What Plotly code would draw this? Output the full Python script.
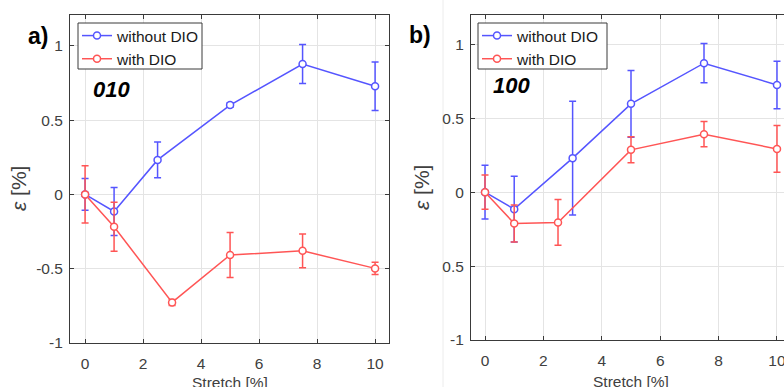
import plotly.graph_objects as go

W, H = 784, 387

# ---------------- data ----------------
# panel a (010)
a_x_without = [0, 1, 2.5, 5, 7.5, 10]
a_y_without = [0, -0.115, 0.232, 0.601, 0.877, 0.728]
a_e_without = [0.107, 0.162, 0.12, 0.015, 0.131, 0.163]
a_x_with = [0, 1, 3, 5, 7.5, 10]
a_y_with = [0, -0.218, -0.727, -0.408, -0.38, -0.498]
a_e_with = [0.192, 0.165, 0.02, 0.152, 0.113, 0.041]

# panel b (100)
b_x_without = [0, 1, 3, 5, 7.5, 10]
b_y_without = [0, -0.115, 0.23, 0.597, 0.872, 0.725]
b_e_without = [0.182, 0.222, 0.385, 0.225, 0.133, 0.161]
b_x_with = [0, 1, 2.5, 5, 7.5, 10]
b_y_with = [0, -0.212, -0.205, 0.286, 0.392, 0.292]
b_e_with = [0.116, 0.125, 0.155, 0.088, 0.085, 0.158]

series_names = ["without DIO", "with DIO"]
x_ticks = [0, 2, 4, 6, 8, 10]
y_ticks = [-1, -0.5, 0, 0.5, 1]
y_tick_labels_a = ["-1", "-0.5", "0", "0.5", "1"]
y_tick_labels_b = ["-1", "0.5", "0", "0.5", "1"]
panel_labels = ["a)", "b)"]
plane_labels = ["010", "100"]
x_title = "Stretch [%]"
y_title = "<i>ε</i> [%]"

BLUE = "rgb(85,85,255)"
RED = "rgb(255,85,85)"
AXC = "#3a3a3a"
TXC = "#404040"
FONT = "Liberation Sans, Arial, sans-serif"


def px(x):
    return x / W


def py(y):
    return (H - y) / H


fig = go.Figure()


def add(x, y, e, color, name, xa, ya, leg):
    fig.add_trace(go.Scatter(
        x=x, y=y, mode="lines+markers", name=name,
        xaxis=xa, yaxis=ya, legend=leg,
        line=dict(color=color, width=1.5),
        marker=dict(symbol="circle", size=7, color="white",
                    line=dict(color=color, width=1.5)),
        error_y=dict(type="data", array=e, visible=True, color=color,
                     thickness=1.5, width=3.5),
    ))


add(a_x_without, a_y_without, a_e_without, BLUE, series_names[0], "x", "y", "legend")
add(a_x_with, a_y_with, a_e_with, RED, series_names[1], "x", "y", "legend")
add(b_x_without, b_y_without, b_e_without, BLUE, series_names[0], "x2", "y2", "legend2")
add(b_x_with, b_y_with, b_e_with, RED, series_names[1], "x2", "y2", "legend2")

axis_common = dict(
    showline=True, linecolor=AXC, linewidth=1,
    ticks="inside", ticklen=4, tickcolor=AXC, tickwidth=1,
    showgrid=True, gridcolor="#e4e4e4", gridwidth=1,
    zeroline=False, automargin=False, ticklabeloverflow="allow",
    tickfont=dict(family=FONT, size=15.5, color=TXC),
)

legend_common = dict(
    xanchor="left", yanchor="top",
    bgcolor="rgba(0,0,0,0)", borderwidth=0,
    font=dict(family=FONT, size=15.5, color="#1a1a1a"),
    tracegroupgap=0, itemwidth=30,
)

fig.update_layout(
    template="none",
    width=W, height=H,
    margin=dict(l=0, r=0, t=0, b=0, autoexpand=False),
    paper_bgcolor="white", plot_bgcolor="white",
    font=dict(family=FONT, color=TXC),
    xaxis=dict(axis_common, domain=[px(70), px(389)], range=[-0.52, 10.48],
               tickvals=x_ticks, mirror="ticks", anchor="y",
               ticklabelstandoff=6),
    yaxis=dict(axis_common, domain=[py(343), py(15)], range=[-1, 1.207],
               tickvals=y_ticks, ticktext=y_tick_labels_a, mirror="ticks",
               anchor="x", ticklabelstandoff=3),
    xaxis2=dict(axis_common, domain=[px(471), 1.0], range=[-0.48, 10.24],
                tickvals=x_ticks, mirror="ticks", anchor="y2",
                ticklabelstandoff=6),
    yaxis2=dict(axis_common, domain=[py(340), py(15)], range=[-1, 1.198],
                tickvals=y_ticks, ticktext=y_tick_labels_b, mirror=False,
                anchor="x2", ticklabelstandoff=3),
    legend=dict(legend_common, x=px(77), y=py(19)),
    legend2=dict(legend_common, x=px(477), y=py(19)),
    showlegend=True,
)

# legend frames
for x0, x1 in [(78, 202), (478, 607)]:
    fig.add_shape(type="rect", xref="paper", yref="paper",
                  x0=px(x0), x1=px(x1), y0=py(69), y1=py(23),
                  fillcolor="white", line=dict(color=AXC, width=1), layer="above")

ann = []


def label(x, y, text, size, color, angle=0, yanchor="middle"):
    ann.append(dict(x=px(x), y=py(y), text=text, showarrow=False, textangle=angle,
                    xanchor="center", yanchor=yanchor, xref="paper", yref="paper",
                    font=dict(family=FONT, size=size, color=color)))


# panel letters
label(38, 36, f"<b>{panel_labels[0]}</b>", 23, "black")
label(420, 35, f"<b>{panel_labels[1]}</b>", 23, "black")
# plane labels
label(111, 89, f"<b><i>{plane_labels[0]}</i></b>", 22, "black")
label(512, 85, f"<b><i>{plane_labels[1]}</i></b>", 22, "black")
# x titles
label(230, 372, x_title, 15.5, TXC, yanchor="top")
label(631, 371, x_title, 15.5, TXC, yanchor="top")
# y titles
label(18, 189, y_title, 21, TXC, angle=-90)
label(421, 188, y_title, 21, TXC, angle=-90)
fig.update_layout(annotations=ann)

# faint image-panel separator
fig.add_shape(type="line", xref="paper", yref="paper", x0=px(443), x1=px(443),
              y0=0, y1=1, line=dict(color="#ececec", width=1), layer="below")

fig.write_html("out.html", config={"displayModeBar": False},
               post_script="document.body.style.margin='0px';document.body.style.overflow='hidden';")
